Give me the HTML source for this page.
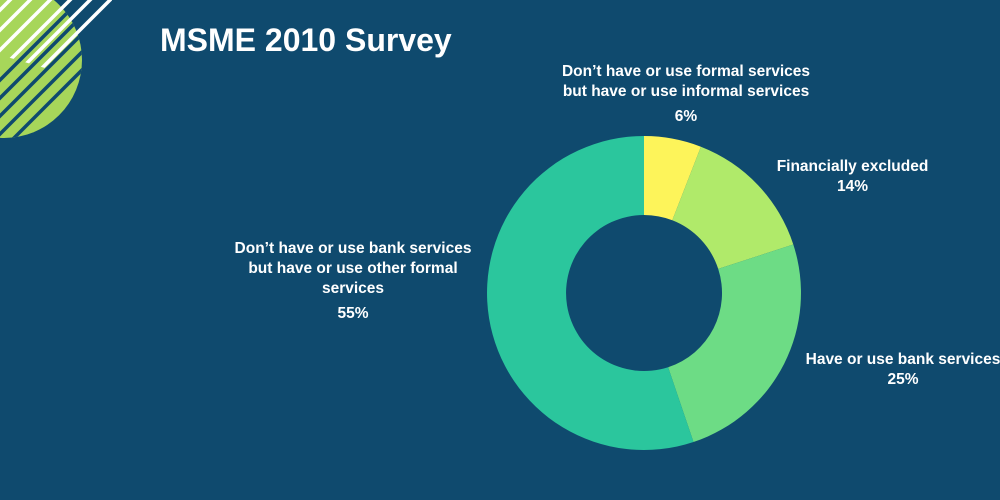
<!DOCTYPE html>
<html><head><meta charset="utf-8"><style>
html,body{margin:0;padding:0}
body{width:1000px;height:500px;background:#0f4a6e;position:relative;overflow:hidden;font-family:"Liberation Sans",sans-serif;color:#fff}
.t{position:absolute;font-weight:bold;font-size:15.5px;line-height:20px;text-align:center;white-space:nowrap}
</style></head><body>
<svg width="1000" height="500" style="position:absolute;left:0;top:0">
<defs>
<clipPath id="c"><circle cx="4" cy="60" r="78"/></clipPath>
<clipPath id="w"><polygon points="0,0 112,0 112,5 78,62 45,68 0,55"/></clipPath>
</defs>
<circle cx="4" cy="60" r="78" fill="#a7d65a"/>
<g clip-path="url(#c)" stroke="#0f4a6e" stroke-width="3.5">
<line x1="-20" y1="100" x2="80" y2="0"/>
<line x1="-20" y1="118" x2="90" y2="8"/>
<line x1="-20" y1="136" x2="100" y2="16"/>
<line x1="-20" y1="154" x2="110" y2="24"/>
<line x1="-10" y1="162" x2="120" y2="32"/>
</g>
<g clip-path="url(#w)" stroke="#fff" stroke-width="3.5">
<line x1="-20" y1="30" x2="40" y2="-30"/>
<line x1="-20" y1="50" x2="60" y2="-30"/>
<line x1="-20" y1="70" x2="80" y2="-30"/>
<line x1="-20" y1="90" x2="100" y2="-30"/>
<line x1="-20" y1="110" x2="120" y2="-30"/>
<line x1="-20" y1="130" x2="140" y2="-30"/>
</g>
<g transform="translate(644,293)">
<path d="M0,-157 A157,157 0 0 1 56.9,-146.3 L28.3,-72.7 A78,78 0 0 0 0,-78 Z" fill="#fdf45a"/>
<path d="M56.9,-146.3 A157,157 0 0 1 149.3,-48.5 L74.2,-24.1 A78,78 0 0 0 28.3,-72.7 Z" fill="#b0ea6a"/>
<path d="M149.3,-48.5 A157,157 0 0 1 49.5,149 L24.1,74.2 A78,78 0 0 0 74.2,-24.1 Z" fill="#6ddc85"/>
<path d="M49.5,149 A157,157 0 1 1 0,-157 L0,-78 A78,78 0 1 0 24.1,74.2 Z" fill="#2bc69d"/>
</g>
</svg>
<div style="position:absolute;left:160px;top:22px;font-size:32px;font-weight:bold">MSME 2010 Survey</div>
<div class="t" style="left:546px;top:62px;width:280px">Don’t have or use formal services<br>but have or use informal services</div>
<div class="t" style="left:646px;top:107px;width:80px">6%</div>
<div class="t" style="left:765px;top:157px;width:175px">Financially excluded<br>14%</div>
<div class="t" style="left:222px;top:239px;width:262px">Don’t have or use bank services<br>but have or use other formal<br>services</div>
<div class="t" style="left:313px;top:304px;width:80px">55%</div>
<div class="t" style="left:798px;top:350px;width:210px">Have or use bank services<br>25%</div>
</body></html>
